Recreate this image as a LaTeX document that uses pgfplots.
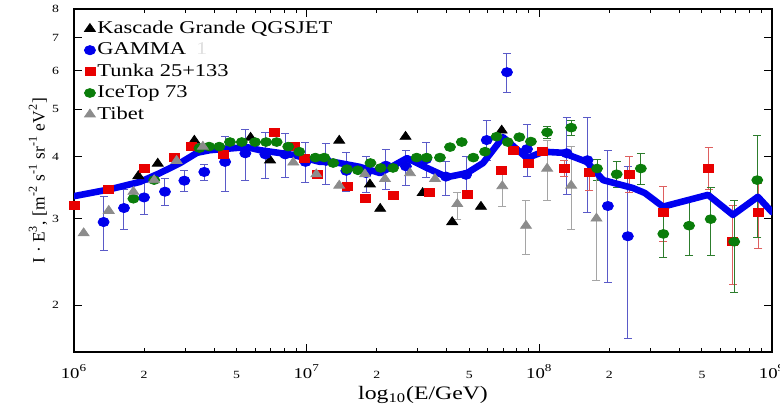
\documentclass[border=0pt]{standalone}
\usepackage{pgfplots}
\usepackage{pgfplotstable}
\pgfplotsset{compat=1.18}
\usepackage{fontspec}
\setmainfont[FakeStretch=1.25]{Liberation Serif}
\newfontfamily\plainserif{Liberation Serif}

\definecolor{kgblack}{RGB}{0,0,0}
\definecolor{gammablue}{RGB}{0,0,235}
\definecolor{gammaerr}{RGB}{90,90,200}
\definecolor{tunkared}{RGB}{232,0,0}
\definecolor{tunkaerr}{RGB}{222,95,95}
\definecolor{icegreen}{RGB}{10,125,10}
\definecolor{iceerr}{RGB}{45,125,45}
\definecolor{tibetgray}{RGB}{140,140,140}
\definecolor{tibeterr}{RGB}{165,165,165}
\definecolor{modelblue}{RGB}{0,0,240}

% KASCADE-Grande (QGSJET)
\pgfplotstableread{
x y
1.89e6 3.66
2.29e6 3.88
3.29e6 4.32
5.74e6 4.38
6.96e6 3.94
1.38e7 4.32
1.87e7 3.52
2.07e7 3.14
2.66e7 4.40
3.15e7 3.38
4.22e7 2.95
5.61e7 3.17
6.89e7 4.53
}\kascade

% GAMMA
\pgfplotstableread{
x y ep em
1.34e6 2.95 0.37 0.37
1.64e6 3.15 0.29 0.30
2.00e6 3.31 0.24 0.25
2.46e6 3.40 0.21 0.22
2.98e6 3.58 0.17 0.18
3.63e6 3.73 0.14 0.14
4.46e6 3.91 0.50 0.50
5.45e6 4.07 0.47 0.49
6.64e6 4.05 0.44 0.44
8.09e6 4.05 0.41 0.42
9.88e6 3.91 0.37 0.36
1.21e7 3.93 0.34 0.41
1.48e7 3.75 0.34 0.34
1.80e7 3.71 0.30 0.33
2.19e7 3.84 0.31 0.41
2.67e7 3.83 0.29 0.33
3.26e7 3.96 0.32 0.33
3.97e7 3.65 0.26 0.31
4.84e7 3.68 0.33 0.38
5.94e7 4.33 0.41 0.40
7.26e7 5.95 0.55 0.54
8.85e7 4.15 0.51 0.50
1.31e8 4.07 0.75 0.72
1.61e8 3.94 0.88 0.86
1.97e8 3.18 0.95 0.96
2.40e8 2.76 1.06 1.05
}\gammadata

% Tunka-25 + Tunka-133
\pgfplotstableread{
x y
1.00e6 3.19
1.40e6 3.44
2.00e6 3.79
2.70e6 3.99
3.18e6 4.20
4.38e6 4.04
7.26e6 4.49
8.85e6 4.20
9.80e6 3.98
1.11e7 3.69
1.49e7 3.49
1.78e7 3.29
2.37e7 3.34
3.36e7 3.39
4.92e7 3.36
6.89e7 3.75
7.73e7 4.13
9.00e7 3.88
1.03e8 4.10
}\tunkalow
\pgfplotstableread{
x y ep em
1.28e8 3.79 0.15 0.14
1.64e8 3.72 0.22 0.30
2.43e8 3.69 0.32 0.31
3.41e8 3.09 0.40 0.40
5.34e8 3.79 0.40 0.35
6.77e8 2.69 0.49 0.49
8.73e8 3.09 0.45 0.49
}\tunkahigh

% IceTop-73
\pgfplotstableread{
x y
1.80e6 3.29
2.21e6 3.59
3.46e6 4.17
3.81e6 4.20
4.21e6 4.20
4.68e6 4.29
5.26e6 4.29
6.00e6 4.29
6.69e6 4.29
7.43e6 4.29
8.33e6 4.20
9.29e6 4.10
1.09e7 3.99
1.19e7 3.99
1.30e7 3.89
1.49e7 3.78
1.66e7 3.76
1.88e7 3.89
2.08e7 3.80
2.35e7 3.80
2.97e7 3.99
3.28e7 3.99
3.74e7 3.99
4.13e7 4.19
4.64e7 4.29
5.20e7 3.99
5.84e7 4.10
6.55e7 4.40
7.31e7 4.29
8.20e7 4.39
9.20e7 4.30
}\icelow
\pgfplotstableread{
x y ep em
1.08e8 4.49 0.12 0.12
1.37e8 4.59 0.15 0.16
1.77e8 3.79 0.17 0.20
2.15e8 3.69 0.22 0.22
2.73e8 3.79 0.28 0.28
3.41e8 2.79 0.27 0.29
4.40e8 2.90 0.37 0.38
5.45e8 2.99 0.48 0.47
6.88e8 2.69 0.58 0.57
8.64e8 3.59 0.84 0.84
}\icehigh

% Tibet
\pgfplotstableread{
x y
1.10e6 2.80
1.41e6 3.11
1.80e6 3.40
2.21e6 3.59
2.76e6 3.93
3.58e6 4.20
8.76e6 3.90
1.10e7 3.69
1.38e7 3.50
1.78e7 3.69
2.17e7 3.61
2.78e7 3.71
3.56e7 3.61
}\tibetlow
\pgfplotstableread{
x y ep em
4.44e7 3.21 0.17 0.22
6.93e7 3.49 0.27 0.32
8.76e7 2.90 0.36 0.37
1.08e8 3.79 0.54 0.53
1.37e8 3.50 0.70 0.65
1.76e8 3.00 0.75 0.76
}\tibethigh

% model curve
\pgfplotstableread{
x y
1.00e6 3.33
1.43e6 3.44
1.92e6 3.56
2.34e6 3.71
2.86e6 3.89
3.38e6 4.08
3.84e6 4.13
5.53e6 4.19
6.30e6 4.13
8.73e6 4.04
1.14e7 3.91
1.30e7 3.91
1.69e7 3.82
2.07e7 3.71
2.70e7 3.98
3.29e7 3.80
4.01e7 3.64
4.89e7 3.71
5.73e7 3.89
6.98e7 4.39
8.85e7 3.98
1.04e8 4.10
1.26e8 4.08
1.60e8 3.91
1.88e8 3.59
2.52e8 3.46
2.84e8 3.38
3.40e8 3.17
5.31e8 3.35
6.79e8 3.05
8.69e8 3.32
1.00e9 3.09
}\model

\begin{document}
\begin{tikzpicture}
\begin{axis}[
  name=ax,
  scale only axis,
  width=349pt, height=171.5pt,
  xmode=log, ymode=log,
  xmin=1e6, xmax=1e9, ymin=1.605, ymax=8,
  axis line style={line width=0.6pt},
  tick style={line width=0.5pt, black},
  tick align=inside,
  major tick length=4pt, minor tick length=2pt,
  xtick={1e6,1e7,1e8,1e9},
  xticklabels={10\textsuperscript{6},10\textsuperscript{7},10\textsuperscript{8},10\textsuperscript{9}},
  extra x ticks={2e6,5e6,2e7,5e7,2e8,5e8},
  extra x tick labels={2,5,2,5,2,5},
  extra x tick style={major tick length=2pt,
    xticklabel style={font=\fontsize{5.5}{6}\selectfont}},
  xticklabel style={font=\fontsize{7.5}{8}\selectfont, anchor=base, yshift=-13pt},
  ytick={2,3,4,5,6,7,8},
  yticklabels={2,3,4,5,6,7,8},
  yminorticks=false,
  yticklabel style={font=\fontsize{5.5}{6}\selectfont, anchor=east, xshift=-4pt},
  xlabel={log\textsubscript{10}(E/GeV)},
  every axis x label/.style={at={(rel axis cs:0.5,0)}, anchor=center, yshift=-21.5pt,
    font=\fontsize{9.5}{10}\selectfont},
  ylabel={\plainserif I · E\textsuperscript{3}, [m\textsuperscript{-2} s\textsuperscript{-1} sr\textsuperscript{-1} eV\textsuperscript{2}]},
  every axis y label/.style={at={(rel axis cs:-0.0516,0.5)}, rotate=90, anchor=center,
    font=\fontsize{8.7}{10}\selectfont},
  legend style={at={(0,1)}, anchor=north west, xshift=5pt, yshift=-4.5pt,
    draw=none, fill=none, inner sep=0pt,
    font=\fontsize{9}{10}\selectfont,
    nodes={inner sep=1pt, text height=6.6pt, text depth=1.8pt},
    row sep=0.3pt},
  legend cell align=left,
  legend image code/.code={\draw[mark repeat=2,mark phase=2,#1] plot coordinates {(0cm,0cm)(0.15cm,0cm)(0.3cm,0cm)};},
]

\addplot[only marks, mark=triangle*, mark size=2.6pt, color=kgblack,
  mark options={xscale=1.2}] table[x=x, y=y] {\kascade};
\addlegendentry{Kascade Grande QGSJET}

\addplot[only marks, mark=*, mark size=2.3pt, color=gammablue,
  mark options={xscale=1.2},
  error bars/.cd, y dir=both, y explicit,
  error bar style={color=gammaerr, line width=0.5pt},
  error mark options={rotate=90, color=gammaerr, mark size=2pt, line width=0.5pt}]
  table[x=x, y=y, y error plus=ep, y error minus=em] {\gammadata};
\addlegendentry{GAMMA\hspace{5pt}{\color{black!12}1}}

\addplot[only marks, mark=square*, mark size=2pt, color=tunkared,
  mark options={xscale=1.25}] table[x=x, y=y] {\tunkalow};
\addlegendentry{Tunka 25+133}

\addplot[only marks, mark=*, mark size=2.2pt, color=icegreen,
  mark options={xscale=1.25}] table[x=x, y=y] {\icelow};
\addlegendentry{IceTop 73}

\addplot[only marks, mark=triangle*, mark size=2.6pt, color=tibetgray,
  mark options={xscale=1.2}] table[x=x, y=y] {\tibetlow};
\addlegendentry{Tibet}

\addplot[forget plot, only marks, mark=square*, mark size=2pt, color=tunkared,
  mark options={xscale=1.25},
  error bars/.cd, y dir=both, y explicit,
  error bar style={color=tunkaerr, line width=0.5pt},
  error mark options={rotate=90, color=tunkaerr, mark size=2pt, line width=0.5pt}]
  table[x=x, y=y, y error plus=ep, y error minus=em] {\tunkahigh};

\addplot[forget plot, only marks, mark=*, mark size=2.2pt, color=icegreen,
  mark options={xscale=1.25},
  error bars/.cd, y dir=both, y explicit,
  error bar style={color=iceerr, line width=0.5pt},
  error mark options={rotate=90, color=iceerr, mark size=2pt, line width=0.5pt}]
  table[x=x, y=y, y error plus=ep, y error minus=em] {\icehigh};

\addplot[forget plot, only marks, mark=triangle*, mark size=2.6pt, color=tibetgray,
  mark options={xscale=1.2},
  error bars/.cd, y dir=both, y explicit,
  error bar style={color=tibeterr, line width=0.5pt},
  error mark options={rotate=90, color=tibeterr, mark size=2pt, line width=0.5pt}]
  table[x=x, y=y, y error plus=ep, y error minus=em] {\tibethigh};

% model curve drawn on top of the data
\addplot[forget plot, color=modelblue, line width=3.3pt, line join=round, line cap=round]
  table[x=x, y=y] {\model};

\end{axis}
\pgfresetboundingbox
\path ([xshift=-37pt,yshift=-27.5pt]ax.south west) rectangle ([xshift=4pt,yshift=4.5pt]ax.north east);
\end{tikzpicture}
\end{document}
